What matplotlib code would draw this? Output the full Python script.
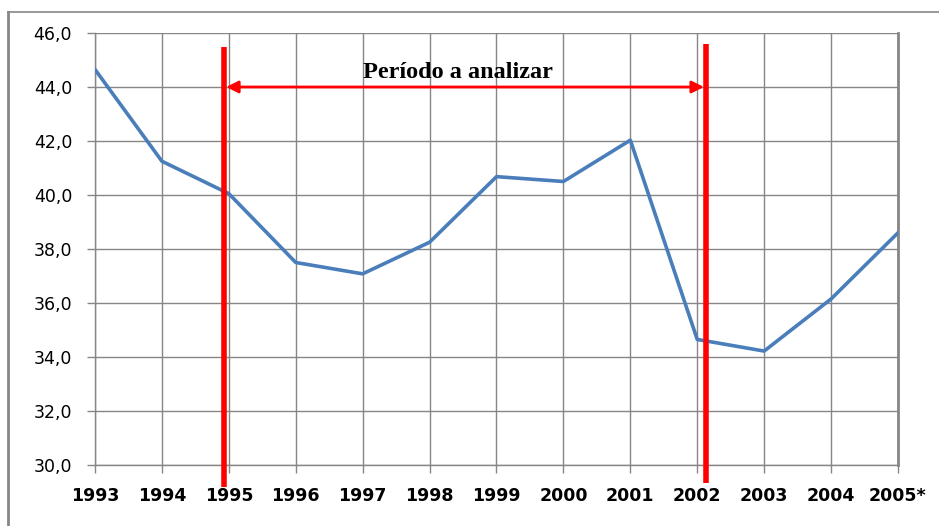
import numpy as np
import matplotlib
matplotlib.use("Agg")
from matplotlib import pyplot as plt
from matplotlib.lines import Line2D

years = ["1993", "1994", "1995", "1996", "1997", "1998", "1999",
         "2000", "2001", "2002", "2003", "2004", "2005*"]
values = [44.65, 41.25, 40.05, 37.5, 37.08, 38.25, 40.68,
          40.5, 42.03, 34.65, 34.22, 36.15, 38.6]
y_ticks = [30.0, 32.0, 34.0, 36.0, 38.0, 40.0, 42.0, 44.0, 46.0]
period_start = 1.93   # just left of 1995
period_end = 9.13     # just right of 2002
period_label = "Período a analizar"

grid_col = "#868686"
W, H = 939, 526
fig = plt.figure(figsize=(W / 100, H / 100), dpi=100)
ax = fig.add_axes([95 / W, 1 - 465 / H, (898 - 95) / W, (465 - 33) / H])

x = np.arange(len(years))
ax.plot(x, values, color="#4a7ebb", lw=2.6, solid_joinstyle="round", zorder=3)

ax.set_xlim(0, len(years) - 1)
ax.set_ylim(30, 46)
ax.set_xticks(x)
ax.set_xticklabels(years, fontsize=12.5, fontweight="bold")
ax.set_yticks(y_ticks)
ax.set_yticklabels([f"{v:.1f}".replace(".", ",") for v in y_ticks], fontsize=12.5)
ax.grid(True, color=grid_col, lw=1.0)
ax.tick_params(axis="both", color=grid_col, width=1.0, length=5.5)
ax.tick_params(axis="x", pad=10)
ax.tick_params(axis="y", pad=11)
ax.spines["top"].set_visible(False)
for side in ["left", "bottom"]:
    ax.spines[side].set_color(grid_col)
    ax.spines[side].set_linewidth(1.0)
ax.spines["right"].set_color(grid_col)
ax.spines["right"].set_linewidth(2.0)

# period markers
ax.plot([period_start, period_start], [29.19, 45.48], color="red", lw=4,
        clip_on=False, zorder=4, solid_capstyle="butt")
ax.plot([period_end, period_end], [29.33, 45.59], color="red", lw=4,
        clip_on=False, zorder=4, solid_capstyle="butt")
ax.annotate("", xy=(period_start + 0.03, 44.0), xytext=(period_end - 0.03, 44.0),
            arrowprops=dict(arrowstyle="<|-|>", color="red", lw=2,
                            mutation_scale=18, shrinkA=0, shrinkB=0), zorder=5)
ax.text(5.42, 44.52, period_label, ha="center", va="center", fontsize=17.5,
        fontweight="bold", family="Liberation Serif", zorder=5)

# outer frame (top and left only visible)
fig.add_artist(Line2D([8 / W, 1], [1 - 12 / H, 1 - 12 / H], color=grid_col, lw=1.2))
fig.add_artist(Line2D([8 / W, 8 / W], [0, 1 - 12 / H], color=grid_col, lw=2))

fig.savefig("out.png", dpi=100)
